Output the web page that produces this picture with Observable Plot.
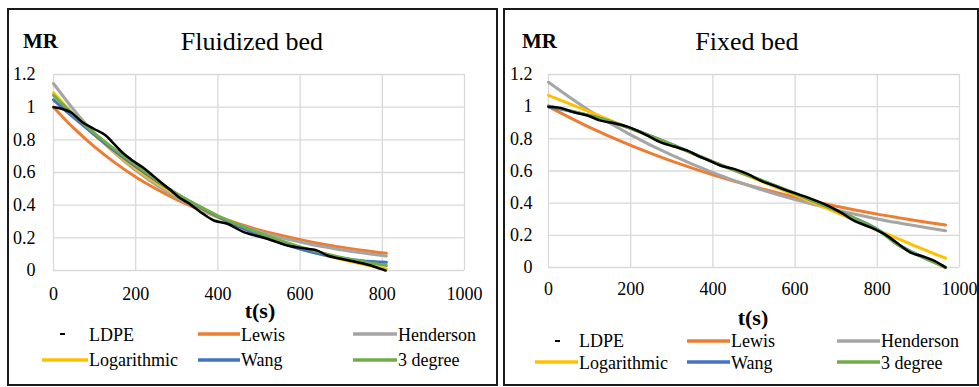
<!DOCTYPE html>
<html><head><meta charset="utf-8">
<script src="https://cdn.jsdelivr.net/npm/d3@7"></script>
<script src="https://cdn.jsdelivr.net/npm/@observablehq/plot@0.6"></script>
<style>
html,body{margin:0;padding:0;background:#fff;}
#root{position:relative;width:979px;height:387px;overflow:hidden;font-family:"Liberation Serif","Times New Roman",serif;}
.panel{position:absolute;border:2px solid #1a1a1a;box-sizing:border-box;}
.plotbox{position:absolute;}
#overlay{position:absolute;left:0;top:0;}
</style></head><body><div id="root"></div>
<script>
// ---- shared ----
const seriesNames = ["LDPE", "Lewis", "Henderson", "Logarithmic", "Wang", "3 degree"];
const seriesColors = ["#000000", "#ED7D31", "#A5A5A5", "#FFC000", "#4472C4", "#70AD47"];
const xTicks = [0, 200, 400, 600, 800, 1000];
const yTicks = [0, 0.2, 0.4, 0.6, 0.8, 1, 1.2];
const yTickLabels = ["0", "0.2", "0.4", "0.6", "0.8", "1", "1.2"];
const panelTitles = ["Fluidized bed", "Fixed bed"];

// ---- Fluidized bed ----
const fluidLDPE_t  = [0, 9, 20, 42, 70, 98, 127, 143, 167, 192, 216, 232, 256, 281, 305, 330, 358, 390, 423, 463, 520, 569, 617, 642, 666, 699, 739, 772, 796, 808];
const fluidLDPE_mr = [1.0, 0.997, 0.99, 0.969, 0.908, 0.868, 0.827, 0.786, 0.724, 0.674, 0.633, 0.602, 0.551, 0.50, 0.449, 0.41, 0.357, 0.306, 0.286, 0.235, 0.194, 0.153, 0.133, 0.122, 0.092, 0.072, 0.051, 0.031, 0.010, 0.0];
const fluidModel_t   = [0, 50, 100, 150, 200, 250, 300, 350, 400, 450, 500, 550, 600, 650, 700, 750, 810];
const fluidLewis     = [1.000, 0.870, 0.757, 0.659, 0.573, 0.499, 0.434, 0.378, 0.329, 0.286, 0.249, 0.217, 0.189, 0.164, 0.143, 0.124, 0.105];
const fluidHenderson = [1.145, 0.982, 0.839, 0.717, 0.613, 0.524, 0.447, 0.382, 0.326, 0.279, 0.238, 0.203, 0.174, 0.148, 0.127, 0.108, 0.088];
const fluidLog       = [1.088, 0.953, 0.831, 0.722, 0.624, 0.537, 0.459, 0.389, 0.327, 0.271, 0.221, 0.176, 0.137, 0.101, 0.069, 0.040, 0.010];
const fluidWang      = [1.045, 0.934, 0.830, 0.729, 0.636, 0.549, 0.469, 0.396, 0.330, 0.270, 0.217, 0.171, 0.132, 0.100, 0.076, 0.060, 0.050];
const fluidCubic     = [1.072, 0.950, 0.840, 0.740, 0.645, 0.555, 0.470, 0.400, 0.335, 0.280, 0.230, 0.185, 0.145, 0.110, 0.080, 0.055, 0.030];

// ---- Fixed bed ----
const fixedLDPE_t  = [0, 30, 62, 95, 127, 160, 192, 216, 241, 273, 305, 338, 362, 387, 419, 451, 484, 516, 549, 581, 630, 670, 711, 743, 784, 824, 857, 881, 913, 938, 966];
const fixedLDPE_mr = [1.0, 0.992, 0.965, 0.945, 0.913, 0.897, 0.876, 0.851, 0.820, 0.778, 0.752, 0.727, 0.696, 0.669, 0.633, 0.613, 0.582, 0.54, 0.509, 0.478, 0.436, 0.395, 0.343, 0.291, 0.249, 0.197, 0.135, 0.093, 0.067, 0.042, 0.0];
const fixedModel_t   = [0, 100, 200, 300, 400, 500, 600, 700, 800, 850, 900, 966];
const fixedLewis     = [1.000, 0.871, 0.759, 0.661, 0.576, 0.502, 0.437, 0.381, 0.332, 0.310, 0.289, 0.264];
const fixedHenderson = [1.152, 0.975, 0.825, 0.698, 0.590, 0.499, 0.422, 0.357, 0.302, 0.278, 0.256, 0.229];
const fixedLog       = [1.070, 0.967, 0.864, 0.761, 0.658, 0.555, 0.450, 0.343, 0.233, 0.180, 0.125, 0.058];
const fixedWang      = [1.000, 0.945, 0.865, 0.765, 0.657, 0.560, 0.460, 0.355, 0.238, 0.145, 0.078, 0.003];
const fixedCubic     = [1.005, 0.945, 0.865, 0.765, 0.655, 0.560, 0.460, 0.355, 0.235, 0.140, 0.075, 0.0];

function rows(ts, vs) { return ts.map((t, i) => ({t, mr: vs[i]})); }

const SERIF = '"Liberation Serif", "Times New Roman", serif';

const panels = [
  {
    ldpe: rows(fluidLDPE_t, fluidLDPE_mr),
    models: [fluidLewis, fluidHenderson, fluidLog, fluidWang, fluidCubic].map(v => rows(fluidModel_t, v)),
    box: {left: 7, top: 8, width: 491, height: 378},
    svg: {left: 0, top: 60, width: 490, height: 250, ml: 53, mr: 26, mt: 14, mb: 40, xPad: 17, yPad: 18},
    mr: {x: 23, y: 48}, title: {x: 252, y: 50}, tlabel: {x: 260, y: 318},
    legend: {rows: [334, 360], base: [341, 366], cols: [[42, 88], [198, 240], [353, 397]], dash: [60, 65]}
  },
  {
    ldpe: rows(fixedLDPE_t, fixedLDPE_mr),
    models: [fixedLewis, fixedHenderson, fixedLog, fixedWang, fixedCubic].map(v => rows(fixedModel_t, v)),
    box: {left: 503, top: 8, width: 476, height: 378},
    svg: {left: 495, top: 60, width: 484, height: 250, ml: 53, mr: 20, mt: 14, mb: 43, xPad: 15, yPad: 16},
    mr: {x: 522, y: 48}, title: {x: 747, y: 50}, tlabel: {x: 753, y: 325},
    legend: {rows: [341, 362], base: [347, 369], cols: [[535, 578], [687, 730], [837, 880]], dash: [555, 560]}
  }
];

const root = document.getElementById("root");

panels.forEach((p, pi) => {
  const b = document.createElement("div");
  b.className = "panel";
  Object.assign(b.style, {left: p.box.left + "px", top: p.box.top + "px", width: p.box.width + "px", height: p.box.height + "px"});
  root.appendChild(b);

  const s = p.svg;
  const marks = [
    Plot.gridX({ticks: xTicks, stroke: "#d9d9d9", strokeOpacity: 1, strokeWidth: 1.3}),
    Plot.gridY({ticks: yTicks, stroke: "#d9d9d9", strokeOpacity: 1, strokeWidth: 1.3}),
    Plot.axisX({ticks: xTicks, tickSize: 0, tickPadding: s.xPad, fontSize: 18, label: null, tickFormat: d => String(d)}),
    Plot.axisY({ticks: yTicks, tickSize: 0, tickPadding: s.yPad, fontSize: 18, label: null, tickFormat: d => yTickLabels[yTicks.indexOf(d)]})
  ];
  p.models.forEach((data, k) => {
    marks.push(Plot.line(data, {x: "t", y: "mr", stroke: seriesColors[k + 1], strokeWidth: 3, curve: "catmull-rom"}));
  });
  marks.push(Plot.line(p.ldpe, {x: "t", y: "mr", stroke: seriesColors[0], strokeWidth: 2.5, curve: "catmull-rom"}));

  const chart = Plot.plot({
    width: s.width, height: s.height,
    marginLeft: s.ml, marginRight: s.mr, marginTop: s.mt, marginBottom: s.mb,
    x: {domain: [0, 1000]},
    y: {domain: [0, 1.2]},
    style: {background: "transparent", fontFamily: SERIF, fontSize: "18px", color: "#000", overflow: "visible", maxWidth: "none"},
    marks
  });
  const holder = document.createElement("div");
  holder.className = "plotbox";
  Object.assign(holder.style, {left: s.left + "px", top: s.top + "px"});
  holder.appendChild(chart);
  root.appendChild(holder);
});

const ov = d3.select(root).append("svg").attr("id", "overlay").attr("width", 979).attr("height", 387)
  .attr("font-family", SERIF);

panels.forEach((p, pi) => {
  ov.append("text").attr("x", p.mr.x).attr("y", p.mr.y).attr("font-size", 21).attr("font-weight", "bold").text("MR");
  ov.append("text").attr("x", p.title.x).attr("y", p.title.y).attr("font-size", 26).attr("text-anchor", "middle").text(panelTitles[pi]);
  ov.append("text").attr("x", p.tlabel.x).attr("y", p.tlabel.y).attr("font-size", 22).attr("font-weight", "bold").attr("text-anchor", "middle").text("t(s)");
  const L = p.legend;
  seriesNames.forEach((name, i) => {
    const r = Math.floor(i / 3), c = i % 3;
    const [x0, x1] = L.cols[c];
    if (i === 0) {
      ov.append("line").attr("x1", L.dash[0]).attr("x2", L.dash[1]).attr("y1", L.rows[r]).attr("y2", L.rows[r])
        .attr("stroke", "#000").attr("stroke-width", 2);
    } else {
      ov.append("line").attr("x1", x0).attr("x2", x1).attr("y1", L.rows[r]).attr("y2", L.rows[r])
        .attr("stroke", seriesColors[i]).attr("stroke-width", 3.5);
    }
    ov.append("text").attr("x", x1 + 1).attr("y", L.base[r]).attr("font-size", 18).text(name);
  });
});
</script>
</body></html>
